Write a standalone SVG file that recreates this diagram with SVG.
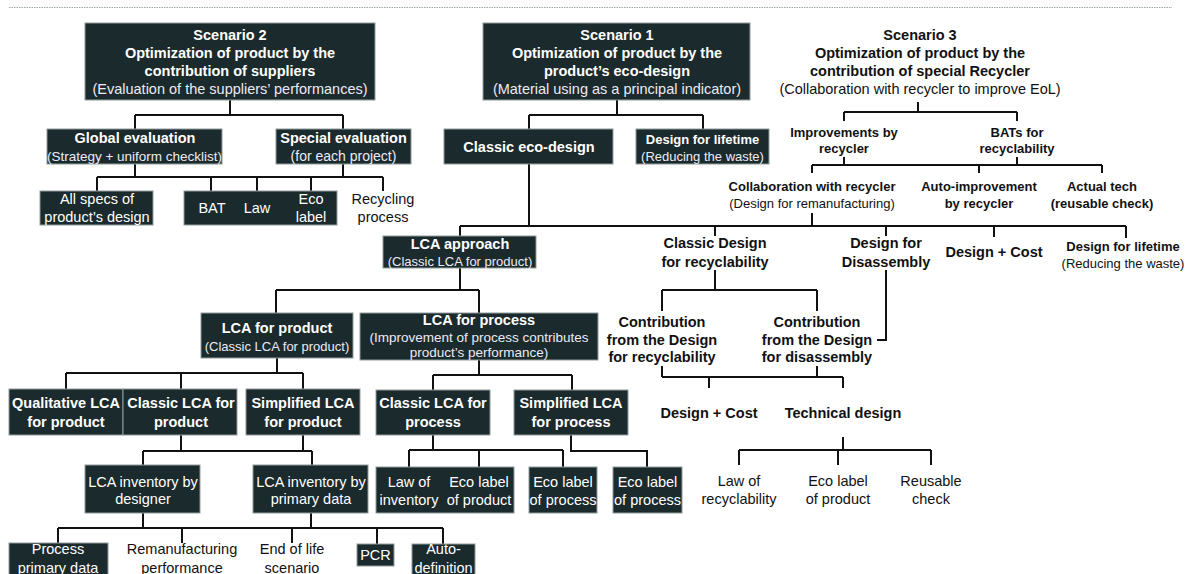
<svg xmlns="http://www.w3.org/2000/svg" width="1189" height="574" viewBox="0 0 1189 574">
<style>
text{font-family:"Liberation Sans",Arial,sans-serif;text-anchor:middle;font-size:14.5px}
.box{fill:#1b2a2c;stroke:#8f9c9c;stroke-width:1}
.w{fill:#ffffff}
.ws{fill:#eceaf4}
.k{fill:#111111}
.b{font-weight:bold}
.s13{font-size:13px}
.s135{font-size:13.5px}
.s14{font-size:14px}
.ln{fill:none;stroke:#111111;stroke-width:2}
</style>
<rect width="1189" height="574" fill="#ffffff"/>
<line x1="9" y1="7.5" x2="1172" y2="7.5" stroke="#9aa6a6" stroke-width="1.2" stroke-dasharray="1.5,1"/>

<g id="connectors" class="ln">
<path d="M230,100V115M135,115H343M135,115V129M343,115V129"/>
<path d="M617,100V115M529,115H703M529,115V129M703,115V129"/>
<path d="M918,102V112M844,112H1017M844,112V121M1017,112V121"/>
<path d="M844,157V165M1017,157V165M812,165H1102M812,165V173M979,165V173M1102,165V173"/>
<path d="M135,164V177M343,164V177M97,177H383M97,177V191M211,177V191M257,177V191M311,177V191M383,177V191"/>
<path d="M529,164V226M812,213V226M460,226H1126M460,226V236M715,226V236M886,226V236M994,226V237M1126,226V238"/>
<path d="M715,270V290M662,290H817M662,290V311M817,290V311"/>
<path d="M886,270V340H877"/>
<path d="M662,366V377M817,366V377M662,377H843M709,377V388M843,377V388"/>
<path d="M843,437V450M739,450H931M739,450V465M838,450V465M931,450V465"/>
<path d="M460,268V290M276,290H479M276,290V313M479,290V313"/>
<path d="M277,358V373M66,373H303M66,373V389M181,373V389M303,373V389"/>
<path d="M479,360V375M433,375H572M433,375V390M572,375V390"/>
<path d="M181,435V451M303,435V451M143,451H312M143,451V465M312,451V465"/>
<path d="M433,435V450M409,450H563M409,450V467M479,450V467M563,450V467"/>
<path d="M571,435V451H647V467"/>
<path d="M143,513V528M311,513V528M58,528H443M58,528V543M182,528V543M292,528V543M377,528V544M443,528V544"/>
</g>

<g id="scenario2">
<rect class="box" x="85" y="23" width="290" height="77"/>
<text class="w b" x="230" y="40">Scenario 2</text>
<text class="w b" x="230" y="58">Optimization of product by the</text>
<text class="w b" x="230" y="76">contribution of suppliers</text>
<text class="ws" x="230" y="94">(Evaluation of the suppliers’ performances)</text>
</g>
<g id="scenario1">
<rect class="box" x="483" y="23" width="267" height="77"/>
<text class="w b" x="617" y="40">Scenario 1</text>
<text class="w b" x="617" y="58">Optimization of product by the</text>
<text class="w b" x="617" y="76">product’s eco-design</text>
<text class="ws" x="617" y="94">(Material using  as  a principal indicator)</text>
</g>
<g id="scenario3">
<text class="k b" x="920" y="40">Scenario 3</text>
<text class="k b" x="920" y="58">Optimization of product by the</text>
<text class="k b" x="920" y="76">contribution of special  Recycler</text>
<text class="k" x="920" y="94">(Collaboration with recycler to improve EoL)</text>
</g>

<g id="global-evaluation">
<rect class="box" x="47" y="129" width="175" height="35"/>
<text class="w b" x="135" y="143">Global evaluation</text>
<text class="ws s135" x="134.5" y="161">(Strategy + uniform checklist)</text>
</g>
<g id="special-evaluation">
<rect class="box" x="276" y="129" width="135" height="35"/>
<text class="w b" x="343.5" y="143">Special evaluation</text>
<text class="ws s14" x="343.5" y="161">(for each project)</text>
</g>
<g id="classic-eco-design">
<rect class="box" x="444" y="129" width="169" height="35"/>
<text class="w b" x="529" y="152">Classic eco-design</text>
</g>
<g id="design-lifetime-1">
<rect class="box" x="636" y="129" width="133" height="35"/>
<text class="w b s13" x="702.5" y="144">Design for lifetime</text>
<text class="ws s13" x="702.5" y="161">(Reducing the waste)</text>
</g>

<g id="improvements-by-recycler">
<text class="k b s13" x="844" y="137">Improvements by</text>
<text class="k b s13" x="844" y="153">recycler</text>
</g>
<g id="bats-recyclability">
<text class="k b s13" x="1017" y="137">BATs for</text>
<text class="k b s13" x="1017" y="153">recyclability</text>
</g>
<g id="collaboration-recycler">
<text class="k b s13" x="812" y="191">Collaboration with  recycler</text>
<text class="k s13" x="812" y="208">(Design for remanufacturing)</text>
</g>
<g id="auto-improvement">
<text class="k b s13" x="979" y="191">Auto-improvement</text>
<text class="k b s13" x="979" y="208">by recycler</text>
</g>
<g id="actual-tech">
<text class="k b s13" x="1102" y="191">Actual tech</text>
<text class="k b s13" x="1102" y="208">(reusable  check)</text>
</g>

<g id="all-specs">
<rect class="box" x="40" y="191" width="113" height="34"/>
<text class="w" x="97" y="204">All specs  of</text>
<text class="w" x="97" y="222">product’s design</text>
</g>
<g id="bat-law-eco">
<rect class="box" x="184" y="191" width="153" height="34"/>
<text class="w" x="212" y="213">BAT</text>
<text class="w" x="257" y="213">Law</text>
<text class="w" x="311" y="204">Eco</text>
<text class="w" x="311" y="222">label</text>
</g>
<g id="recycling-process">
<text class="k" x="383" y="204">Recycling</text>
<text class="k" x="383" y="222">process</text>
</g>

<g id="lca-approach">
<rect class="box" x="383" y="236" width="153" height="32"/>
<text class="w b" x="460" y="249">LCA approach</text>
<text class="ws s13" x="460" y="266">(Classic LCA  for product)</text>
</g>
<g id="classic-design-recyclability">
<text class="k b" x="715" y="248">Classic Design</text>
<text class="k b" x="715" y="267">for recyclability</text>
</g>
<g id="design-disassembly">
<text class="k b" x="886" y="248">Design for</text>
<text class="k b" x="886" y="267">Disassembly</text>
</g>
<g id="design-cost-1">
<text class="k b" x="994" y="257">Design + Cost</text>
</g>
<g id="design-lifetime-2">
<text class="k b s13" x="1123" y="251">Design for lifetime</text>
<text class="k s13" x="1123" y="268">(Reducing the waste)</text>
</g>

<g id="contribution-recyclability">
<text class="k b" x="662" y="327">Contribution</text>
<text class="k b" x="662" y="345">from the Design</text>
<text class="k b" x="662" y="362">for recyclability</text>
</g>
<g id="contribution-disassembly">
<text class="k b" x="817" y="327">Contribution</text>
<text class="k b" x="817" y="345">from the Design</text>
<text class="k b" x="817" y="362">for disassembly</text>
</g>
<g id="design-cost-2">
<text class="k b" x="709" y="418">Design + Cost</text>
</g>
<g id="technical-design">
<text class="k b" x="843" y="418">Technical design</text>
</g>
<g id="law-recyclability">
<text class="k" x="739" y="486">Law of</text>
<text class="k" x="739" y="504">recyclability</text>
</g>
<g id="eco-label-product-2">
<text class="k" x="838" y="486">Eco label</text>
<text class="k" x="838" y="504">of product</text>
</g>
<g id="reusable-check">
<text class="k" x="931" y="486">Reusable</text>
<text class="k" x="931" y="504">check</text>
</g>

<g id="lca-product">
<rect class="box" x="201" y="313" width="152" height="45"/>
<text class="w b" x="277" y="333">LCA for product</text>
<text class="ws s13" x="277" y="351">(Classic LCA  for product)</text>
</g>
<g id="lca-process">
<rect class="box" x="360" y="313" width="238" height="47"/>
<text class="w b" x="479" y="325">LCA for process</text>
<text class="ws s135" x="479" y="342">(Improvement of process contributes</text>
<text class="ws s135" x="479" y="357">product’s performance)</text>
</g>

<g id="qualitative-lca">
<rect class="box" x="9" y="389" width="114" height="46"/>
<text class="w b" x="66" y="408">Qualitative LCA</text>
<text class="w b" x="66" y="427">for product</text>
</g>
<g id="classic-lca-product">
<rect class="box" x="123" y="389" width="114" height="46"/>
<text class="w b" x="181" y="408">Classic LCA for</text>
<text class="w b" x="181" y="427">product</text>
</g>
<g id="simplified-lca-product">
<rect class="box" x="246" y="389" width="114" height="46"/>
<text class="w b" x="303" y="408">Simplified LCA</text>
<text class="w b" x="303" y="427">for product</text>
</g>
<g id="classic-lca-process">
<rect class="box" x="376" y="390" width="114" height="45"/>
<text class="w b" x="433" y="408">Classic LCA for</text>
<text class="w b" x="433" y="427">process</text>
</g>
<g id="simplified-lca-process">
<rect class="box" x="514" y="390" width="114" height="45"/>
<text class="w b" x="571" y="408">Simplified LCA</text>
<text class="w b" x="571" y="427">for process</text>
</g>

<g id="lca-inventory-designer">
<rect class="box" x="85" y="465" width="115" height="48"/>
<text class="w" x="143" y="487">LCA inventory by</text>
<text class="w" x="143" y="504">designer</text>
</g>
<g id="lca-inventory-primary">
<rect class="box" x="253" y="465" width="115" height="48"/>
<text class="w" x="311" y="487">LCA inventory by</text>
<text class="w" x="311" y="504">primary data</text>
</g>
<g id="law-inventory-eco-product">
<rect class="box" x="376" y="467" width="138" height="46"/>
<text class="w" x="409" y="487">Law of</text>
<text class="w" x="409" y="505">inventory</text>
<text class="w" x="479" y="487">Eco label</text>
<text class="w" x="479" y="505">of product</text>
</g>
<g id="eco-label-process-1">
<rect class="box" x="529" y="467" width="68" height="46"/>
<text class="w" x="563" y="487">Eco label</text>
<text class="w" x="563" y="505">of process</text>
</g>
<g id="eco-label-process-2">
<rect class="box" x="613" y="467" width="69" height="46"/>
<text class="w" x="647.5" y="487">Eco label</text>
<text class="w" x="647.5" y="505">of process</text>
</g>

<g id="process-primary-data">
<rect class="box" x="9" y="543" width="99" height="36"/>
<text class="w" x="58" y="554">Process</text>
<text class="w" x="58" y="573">primary data</text>
</g>
<g id="remanufacturing-performance">
<text class="k" x="182" y="554">Remanufacturing</text>
<text class="k" x="182" y="573">performance</text>
</g>
<g id="end-of-life">
<text class="k" x="292" y="554">End of life</text>
<text class="k" x="292" y="573">scenario</text>
</g>
<g id="pcr">
<rect class="box" x="357" y="544" width="37" height="22"/>
<text class="w" x="375.5" y="560">PCR</text>
</g>
<g id="auto-definition">
<rect class="box" x="412" y="544" width="63" height="36"/>
<text class="w" x="443.5" y="554">Auto-</text>
<text class="w" x="443.5" y="573">definition</text>
</g>
</svg>
